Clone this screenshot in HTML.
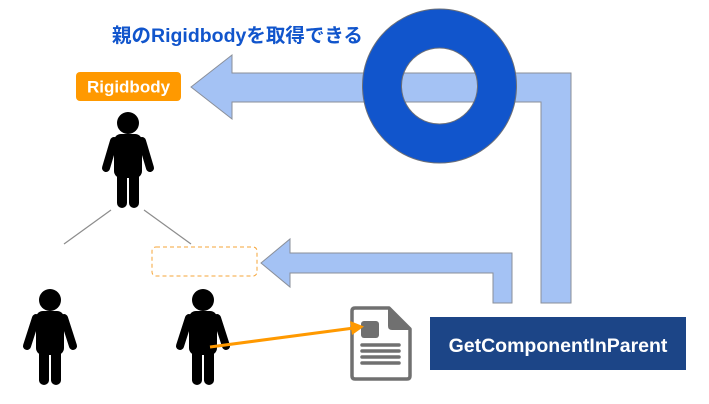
<!DOCTYPE html>
<html><head><meta charset="utf-8">
<style>
html,body{margin:0;padding:0;background:#fff;}
svg{display:block;}
text{font-family:"Liberation Sans","Noto Sans CJK JP",sans-serif;font-weight:bold;}
</style></head>
<body>
<svg width="709" height="404" viewBox="0 0 709 404" xmlns="http://www.w3.org/2000/svg">
<rect width="709" height="404" fill="#fff"/>
<!-- title -->
<text x="112" y="42" font-size="19.5" fill="#1155cc">親のRigidbodyを取得できる</text>
<!-- upper arrow -->
<polygon points="191,87 232,55 232,73 571,73 571,303 541,303 541,102 232,102 232,119" fill="#a4c2f4" stroke="#8a8f99" stroke-width="1"/>
<!-- lower arrow -->
<polygon points="261,263 290,239 290,253 512,253 512,303 493,303 493,273 290,273 290,287" fill="#a4c2f4" stroke="#8a8f99" stroke-width="1"/>
<!-- ring -->
<path d="M439.5,9 a77,77 0 1,0 0.01,0 Z M439.5,48 a38,38 0 1,1 -0.01,0 Z" fill="#1155cc" fill-rule="evenodd" stroke="#6b6f78" stroke-width="1"/>
<!-- Rigidbody label -->
<rect x="76" y="72" width="105" height="29" rx="4" fill="#ff9900"/>
<text x="128.5" y="92.5" font-size="17" fill="#fff" text-anchor="middle">Rigidbody</text>
<!-- tree lines -->
<line x1="111" y1="210" x2="64" y2="244" stroke="#8c8c8c" stroke-width="1.2"/>
<line x1="144" y1="210" x2="191" y2="244" stroke="#8c8c8c" stroke-width="1.2"/>
<!-- dashed box -->
<rect x="152" y="247" width="105" height="29" rx="4" fill="none" stroke="#f6a63a" stroke-width="1" stroke-dasharray="4,3"/>
<!-- persons -->
<g fill="#000" stroke="#000">
  <circle cx="128" cy="123" r="11" stroke="none"/>
  <rect x="114" y="134" width="28" height="44" rx="7" stroke="none"/>
  <line x1="114" y1="141" x2="106" y2="168" stroke-width="8" stroke-linecap="round"/>
  <line x1="142" y1="141" x2="150" y2="168" stroke-width="8" stroke-linecap="round"/>
  <line x1="122" y1="172" x2="122" y2="203" stroke-width="10" stroke-linecap="round"/>
  <line x1="134" y1="172" x2="134" y2="203" stroke-width="10" stroke-linecap="round"/>
</g>
<g fill="#000" stroke="#000">
  <circle cx="50" cy="300" r="11" stroke="none"/>
  <rect x="36" y="311" width="28" height="44" rx="7" stroke="none"/>
  <line x1="36" y1="318" x2="27" y2="346" stroke-width="8" stroke-linecap="round"/>
  <line x1="64" y1="318" x2="73" y2="346" stroke-width="8" stroke-linecap="round"/>
  <line x1="44" y1="349" x2="44" y2="380" stroke-width="10" stroke-linecap="round"/>
  <line x1="56" y1="349" x2="56" y2="380" stroke-width="10" stroke-linecap="round"/>
</g>
<g fill="#000" stroke="#000">
  <circle cx="203" cy="300" r="11" stroke="none"/>
  <rect x="189" y="311" width="28" height="44" rx="7" stroke="none"/>
  <line x1="189" y1="318" x2="180" y2="346" stroke-width="8" stroke-linecap="round"/>
  <line x1="217" y1="318" x2="226" y2="346" stroke-width="8" stroke-linecap="round"/>
  <line x1="197" y1="349" x2="197" y2="380" stroke-width="10" stroke-linecap="round"/>
  <line x1="209" y1="349" x2="209" y2="380" stroke-width="10" stroke-linecap="round"/>
</g>
<!-- document icon -->
<path d="M355,308 L389,308 L410,329 L410,376 Q410,379 407,379 L355,379 Q352,379 352,376 L352,311 Q352,308 355,308 Z" fill="#fff" stroke="#707070" stroke-width="3.5" stroke-linejoin="round"/>
<path d="M389,308 L410,329 L392,329 Q389,329 389,326 Z" fill="#707070" stroke="#707070" stroke-width="2" stroke-linejoin="round"/>
<rect x="361" y="321" width="18" height="17" rx="3" fill="#707070"/>
<g stroke="#707070" stroke-width="3.5" stroke-linecap="round">
  <line x1="362" y1="345" x2="399" y2="345"/>
  <line x1="362" y1="351" x2="399" y2="351"/>
  <line x1="362" y1="357" x2="399" y2="357"/>
  <line x1="362" y1="363" x2="399" y2="363"/>
</g>
<!-- orange arrow -->
<line x1="210" y1="347" x2="354" y2="328" stroke="#ff9900" stroke-width="3"/>
<polygon points="364,326.5 350,321 352,335" fill="#ff9900"/>
<!-- blue box -->
<rect x="430" y="317" width="256" height="53" fill="#1c4587"/>
<text x="558" y="352" font-size="19.5" fill="#fff" text-anchor="middle">GetComponentInParent</text>
</svg>
</body></html>
